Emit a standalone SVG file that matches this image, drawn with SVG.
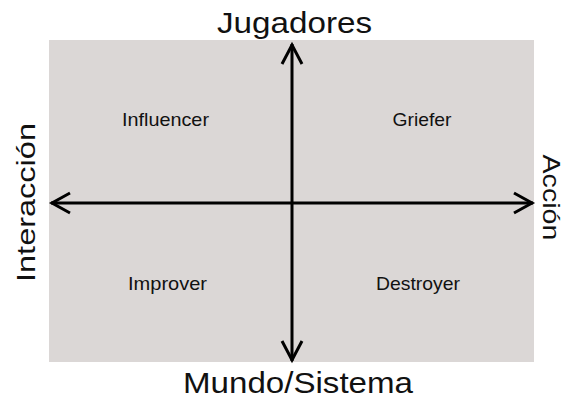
<svg xmlns="http://www.w3.org/2000/svg" width="566" height="398" viewBox="0 0 566 398">
<defs>
<style>
text{font-family:"Liberation Sans",Arial,sans-serif;fill:#111;text-anchor:middle}
.axis{font-size:29px}
.q{font-size:19px}
.ln{stroke:#000;stroke-width:3;fill:none}
.hd{stroke:#000;stroke-width:3;fill:none;stroke-linecap:butt;stroke-linejoin:miter}
</style>
</defs>
<rect id="background" x="49" y="40" width="485" height="322" fill="#dbd7d6"/>
<g id="connectors">
<line class="ln" x1="292" y1="44" x2="292" y2="361"/>
<line class="ln" x1="51" y1="203" x2="533" y2="203"/>
<polyline class="hd" points="282,64 292,45 302,64"/>
<polyline class="hd" points="282,341 292,360 302,341"/>
<polyline class="hd" points="70,193 52,203 70,213"/>
<polyline class="hd" points="514,193 532,203 514,213"/>
</g>
<g id="top-label"><text class="axis" x="294.5" y="33" textLength="155" lengthAdjust="spacingAndGlyphs">Jugadores</text></g>
<g id="bottom-label"><text class="axis" x="298" y="393" style="font-size:30px" textLength="230" lengthAdjust="spacingAndGlyphs">Mundo/Sistema</text></g>
<g id="left-label"><text class="axis" transform="translate(35,202.5) rotate(-90)" style="font-size:26px" textLength="159" lengthAdjust="spacingAndGlyphs">Interacción</text></g>
<g id="right-label"><text class="axis" transform="translate(543,197.5) rotate(90)" style="font-size:24px" textLength="86" lengthAdjust="spacingAndGlyphs">Acción</text></g>
<g id="influencer"><text class="q" x="165.5" y="126" textLength="87" lengthAdjust="spacingAndGlyphs">Influencer</text></g>
<g id="griefer"><text class="q" x="422" y="126" textLength="59" lengthAdjust="spacingAndGlyphs">Griefer</text></g>
<g id="improver"><text class="q" x="167.5" y="290" textLength="79" lengthAdjust="spacingAndGlyphs">Improver</text></g>
<g id="destroyer"><text class="q" x="418" y="290" textLength="84" lengthAdjust="spacingAndGlyphs">Destroyer</text></g>
</svg>
